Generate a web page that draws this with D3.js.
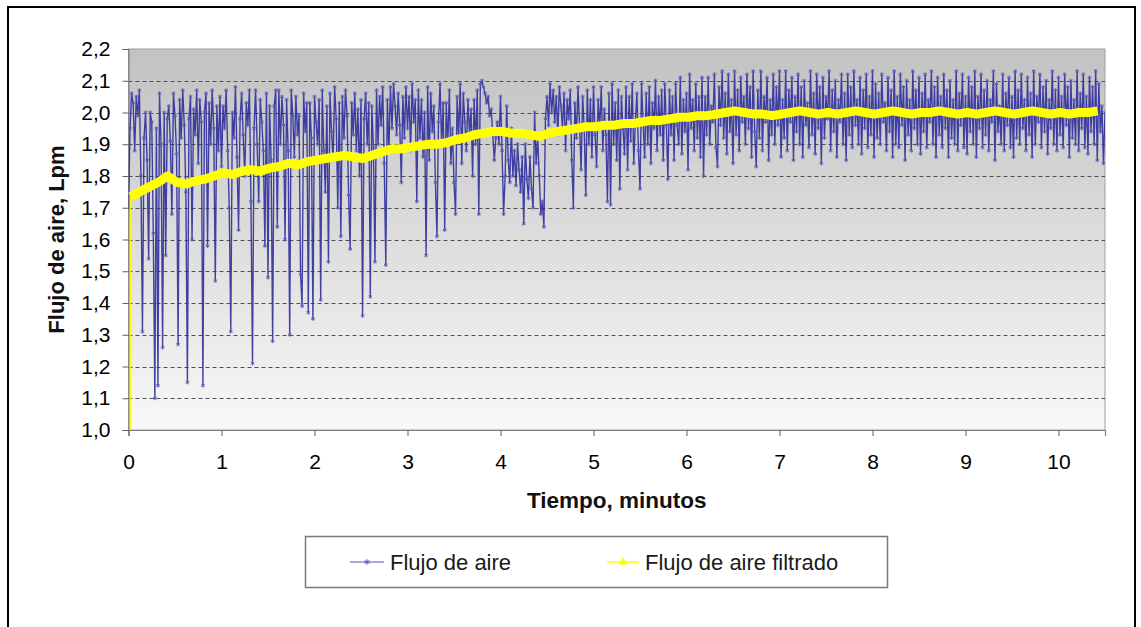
<!DOCTYPE html>
<html>
<head>
<meta charset="utf-8">
<script src="https://cdn.jsdelivr.net/npm/d3@7"></script>
<style>
  body { margin: 0; background: #fff; }
  svg { display: block; font-family: "Liberation Sans", Arial, sans-serif; }
</style>
</head>
<body>
<svg id="chart"></svg>
<script>
// raw air flow, one reading per second (1/60 min)
const flowStep = 1 / 60;
const airFlow = [
  // minute 0
  1.70, 1.95, 2.06, 2.03, 1.88, 2.05, 1.99, 2.07, 1.80, 1.31,
  1.92, 2.00, 1.85, 1.54, 2.00, 1.97, 1.62, 1.10, 1.95, 1.14,
  2.06, 1.90, 1.26, 2.00, 1.55, 1.98, 2.02, 1.91, 1.68, 2.06,
  1.99, 1.87, 1.27, 2.04, 1.92, 2.07, 1.96, 1.75, 1.15, 1.98,
  2.05, 1.60, 2.01, 1.93, 2.07, 1.84, 2.04, 1.97, 1.14, 2.00,
  2.06, 1.58, 2.03, 1.90, 2.07, 1.95, 1.47, 2.02, 1.88, 2.05,
  // minute 1
  1.83, 2.02, 1.95, 2.07, 1.88, 1.70, 1.31, 2.00, 1.92, 2.08,
  1.86, 1.63, 1.98, 2.06, 1.93, 1.80, 2.03, 1.96, 2.07, 1.72,
  1.21, 1.95, 2.07, 1.90, 1.72, 2.04, 1.97, 1.88, 1.58, 2.06,
  1.48, 2.02, 1.85, 1.28, 2.02, 2.07, 1.64, 2.07, 1.90, 2.05,
  1.96, 1.60, 2.04, 1.88, 1.30, 2.07, 1.99, 1.86, 2.05, 1.93,
  1.99, 1.49, 1.39, 2.06, 1.94, 2.03, 1.37, 2.03, 1.92, 1.35,
  // minute 2
  2.05, 1.97, 1.90, 2.04, 1.41, 2.07, 1.88, 1.75, 2.02, 1.53,
  2.06, 1.94, 1.85, 2.08, 1.98, 1.70, 2.03, 1.61, 2.05, 1.92,
  2.07, 1.99, 1.74, 1.57, 2.03, 1.93, 2.06, 1.88, 2.01, 1.80,
  2.04, 1.36, 1.98, 2.06, 1.90, 2.03, 1.42, 2.02, 1.89, 1.53,
  2.07, 1.90, 2.05, 1.96, 2.08, 1.84, 1.52, 2.04, 1.88, 2.08,
  1.95, 2.09, 2.02, 1.93, 2.06, 1.96, 1.78, 2.05, 1.92, 2.08,
  // minute 3
  1.95, 2.05, 1.88, 2.09, 1.97, 2.04, 1.72, 2.07, 1.92, 2.04,
  1.86, 2.00, 1.55, 2.08, 1.85, 2.06, 1.94, 2.02, 1.78, 1.61,
  1.97, 2.09, 1.90, 2.03, 1.63, 2.03, 1.90, 2.07, 1.84, 1.95,
  1.78, 1.68, 2.05, 1.92, 2.09, 1.84, 2.06, 1.97, 1.88, 2.04,
  1.93, 2.01, 1.80, 2.04, 1.90, 2.07, 1.68, 2.09, 2.10, 2.08,
  2.06, 2.03, 2.05, 1.99, 2.01, 1.93, 1.85, 1.92, 1.97, 1.90,
  // minute 4
  2.05, 1.88, 1.68, 1.80, 2.02, 1.85, 1.78, 1.95, 1.80, 1.88,
  1.77, 1.90, 1.82, 1.75, 1.86, 1.65, 1.90, 1.79, 1.73, 1.86,
  1.76, 1.70, 2.00, 1.84, 1.92, 1.80, 1.68, 1.72, 1.64, 1.98,
  2.05, 1.96, 2.09, 2.00, 2.07, 1.97, 2.05, 1.93, 2.08, 2.02,
  1.95, 2.06, 1.88, 2.04, 1.98, 2.07, 1.85, 1.70, 2.03, 1.92,
  2.08, 1.96, 1.82, 2.05, 1.95, 1.74, 2.07, 1.90, 2.04, 1.86,
  // minute 5
  2.08, 1.93, 1.83, 2.04, 1.95, 2.08, 1.88, 2.01, 1.93, 1.72,
  2.06, 1.71, 2.09, 1.90, 2.03, 1.85, 2.07, 1.76, 2.05, 1.95,
  1.87, 2.08, 1.82, 2.05, 1.91, 2.09, 1.84, 1.97, 2.06, 1.88,
  1.76, 2.09, 1.97, 1.86, 2.06, 1.90, 2.08, 1.84, 2.03, 1.95,
  2.10, 1.88, 2.05, 1.93, 2.07, 1.85, 2.09, 1.96, 1.79, 2.07,
  1.93, 2.05, 1.85, 2.09, 1.96, 1.90, 2.11, 1.87, 2.04, 1.94,
  // minute 6
  2.06, 1.82, 2.12, 1.95, 2.04, 1.88, 2.09, 1.92, 2.05, 1.86,
  2.11, 1.80, 2.05, 1.93, 2.11, 1.90, 2.02, 1.97, 2.12, 1.89,
  1.83, 2.08, 1.96, 2.13, 1.92, 2.06, 1.87, 2.12, 1.94, 2.04,
  1.84, 2.13, 1.93, 2.07, 1.88, 2.11, 1.97, 2.05, 1.90, 2.12,
  1.95, 2.08, 1.86, 2.13, 1.94, 1.83, 2.07, 1.92, 2.13, 1.88,
  2.05, 1.97, 2.11, 1.85, 2.04, 1.93, 2.12, 1.90, 2.08, 1.96,
  // minute 7
  2.13, 1.86, 2.04, 1.92, 2.13, 1.88, 2.07, 1.97, 2.11, 1.85,
  2.05, 1.94, 2.12, 1.90, 2.08, 1.86, 2.10, 1.96, 2.03, 1.89,
  2.13, 1.93, 2.06, 1.87, 2.12, 1.95, 2.08, 1.84, 2.11, 1.92,
  2.05, 1.98, 2.13, 1.88, 2.07, 1.94, 2.10, 1.86, 2.04, 1.97,
  2.12, 1.90, 2.06, 1.85, 2.12, 1.93, 2.08, 1.89, 2.13, 1.96,
  2.04, 1.90, 2.11, 1.87, 2.07, 1.95, 2.12, 1.89, 2.05, 1.93,
  // minute 8
  2.13, 1.86, 2.09, 1.92, 2.06, 1.90, 2.12, 1.97, 2.03, 1.88,
  2.11, 1.94, 2.07, 1.86, 2.13, 1.90, 2.05, 1.89, 2.12, 1.96,
  2.08, 1.85, 2.10, 1.93, 2.04, 1.88, 2.13, 1.95, 2.07, 1.90,
  2.11, 1.87, 2.06, 1.94, 2.12, 1.89, 2.04, 1.97, 2.13, 1.90,
  2.08, 1.86, 2.11, 1.93, 2.05, 1.89, 2.12, 1.95, 2.07, 1.86,
  2.10, 1.92, 2.04, 1.90, 2.13, 1.88, 2.06, 1.96, 2.12, 1.89,
  // minute 9
  2.05, 1.87, 2.11, 1.94, 2.08, 1.90, 2.13, 1.86, 2.05, 1.95,
  2.12, 1.89, 2.07, 1.93, 2.10, 1.88, 2.04, 1.97, 2.13, 1.85,
  2.09, 1.94, 2.02, 1.90, 2.12, 1.88, 2.06, 1.96, 2.11, 1.89,
  2.05, 1.86, 2.13, 1.92, 2.07, 1.90, 2.12, 1.95, 2.04, 1.88,
  2.11, 1.93, 2.06, 1.86, 2.13, 1.90, 2.05, 1.97, 2.12, 1.89,
  2.08, 1.94, 2.10, 1.87, 2.04, 1.95, 2.13, 1.90, 2.07, 1.88,
  // minute 10
  2.11, 1.93, 2.05, 1.89, 2.12, 1.96, 2.08, 1.86, 2.10, 1.92,
  2.04, 1.90, 2.13, 1.88, 2.06, 1.95, 2.12, 1.89, 2.05, 1.87,
  2.11, 1.94, 2.08, 1.90, 2.13, 1.85, 2.09, 1.94, 2.02, 1.84,
  2.00
];

// filtered flow, one value every 0.1 min starting at 0.02 min
const filtStart = 0.02;
const filtStep = 0.1;
const filtInit = 1.0;
const filtFlow = [
  1.735, 1.75, 1.765, 1.78, 1.80, 1.78, 1.775, 1.785, 1.79, 1.80,
  1.81, 1.805, 1.815, 1.82, 1.815, 1.825, 1.83, 1.84, 1.835, 1.845,
  1.85, 1.855, 1.86, 1.865, 1.86, 1.855, 1.865, 1.875, 1.885, 1.885,
  1.89, 1.895, 1.90, 1.90, 1.905, 1.915, 1.92, 1.93, 1.935, 1.94,
  1.94, 1.935, 1.935, 1.93, 1.925, 1.935, 1.94, 1.945, 1.95, 1.955,
  1.955, 1.96, 1.96, 1.965, 1.965, 1.97, 1.975, 1.975, 1.98, 1.985,
  1.985, 1.99, 1.99, 1.995, 2.00, 2.005, 2.00, 1.995, 1.995, 1.99,
  1.995, 2.00, 2.005, 2.00, 1.995, 2.00, 1.995, 2.00, 2.005, 2.00,
  1.995, 2.00, 2.005, 2.00, 1.995, 2.00, 2.00, 2.005, 2.00, 1.995,
  2.00, 1.995, 2.00, 2.005, 2.00, 1.995, 2.00, 2.005, 2.00, 1.995,
  2.00, 1.995, 2.00, 2.00, 2.005
];

const xTicks = [0, 1, 2, 3, 4, 5, 6, 7, 8, 9, 10];
const yTicks = [1.0, 1.1, 1.2, 1.3, 1.4, 1.5, 1.6, 1.7, 1.8, 1.9, 2.0, 2.1, 2.2];
const seriesNames = ["Flujo de aire", "Flujo de aire filtrado"];

const width = 1141;
const height = 627;
const marginLeft = 128.5;
const marginRight = 36;
const marginTop = 49;
const marginBottom = 197;

const x = d3.scaleLinear()
    .domain([0, 10.5])
    .range([marginLeft, width - marginRight]);

const y = d3.scaleLinear()
    .domain([1.0, 2.2])
    .range([height - marginBottom, marginTop]);

const fmt = d => d3.format(".1f")(d).replace(".", ",");

const svg = d3.select("#chart")
    .attr("width", width)
    .attr("height", height);

// outer frame
svg.append("path")
    .attr("d", `M8,${height + 5}V7H1135V${height + 5}`)
    .attr("fill", "none")
    .attr("stroke", "#000")
    .attr("stroke-width", 2);

const defs = svg.append("defs");
const grad = defs.append("linearGradient")
    .attr("id", "bg")
    .attr("x1", 0).attr("y1", 0).attr("x2", 0).attr("y2", 1);
grad.append("stop").attr("offset", "0%").attr("stop-color", "#c2c2c2");
grad.append("stop").attr("offset", "100%").attr("stop-color", "#f8f8f8");

defs.append("clipPath").attr("id", "plotclip")
  .append("rect")
    .attr("x", x(0)).attr("y", y(2.2))
    .attr("width", x(10.5) - x(0)).attr("height", y(1.0) - y(2.2));

svg.append("rect")
    .attr("x", x(0))
    .attr("y", y(2.2))
    .attr("width", x(10.5) - x(0))
    .attr("height", y(1.0) - y(2.2))
    .attr("fill", "url(#bg)")
    .attr("stroke", "#a0a0a0")
    .attr("stroke-width", 1);

// dashed gridlines
svg.append("g")
  .selectAll("line")
  .data(yTicks.filter(d => d > 1.0 && d < 2.2))
  .join("line")
    .attr("x1", x(0))
    .attr("x2", x(10.5))
    .attr("y1", d => Math.round(y(d)) + 0.5)
    .attr("y2", d => Math.round(y(d)) + 0.5)
    .attr("stroke", "#505050")
    .attr("stroke-width", 1)
    .attr("stroke-dasharray", "4,3");

// axes
const xAxis = svg.append("g")
    .attr("transform", `translate(0,${y(1.0)})`)
    .call(d3.axisBottom(x).tickValues(xTicks).tickSize(6).tickPadding(18).tickFormat(d3.format("d")));
const yAxis = svg.append("g")
    .attr("transform", `translate(${x(0)},0)`)
    .call(d3.axisLeft(y).tickValues(yTicks).tickSize(6).tickPadding(12).tickFormat(fmt));

[xAxis, yAxis].forEach(g => {
  g.select(".domain").attr("stroke", "#808080").attr("stroke-width", 1.2);
  g.selectAll(".tick line").attr("stroke", "#606060");
  g.selectAll(".tick text")
      .attr("fill", "#000")
      .attr("font-size", 21)
      .attr("font-family", "Liberation Sans, Arial, sans-serif");
});

// raw flow series
const plot = svg.append("g").attr("clip-path", "url(#plotclip)");
const flowPts = airFlow.map((v, i) => [i * flowStep, v]);

plot.append("path")
    .datum(flowPts)
    .attr("fill", "none")
    .attr("stroke", "#2f2f9c")
    .attr("stroke-width", 1.4)
    .attr("stroke-opacity", 0.9)
    .attr("d", d3.line().x(d => x(d[0])).y(d => y(d[1])));

plot.append("g")
  .selectAll("path")
  .data(flowPts)
  .join("path")
    .attr("transform", d => `translate(${x(d[0])},${y(d[1])})`)
    .attr("d", d3.symbol(d3.symbolAsterisk, 12))
    .attr("fill", "none")
    .attr("stroke", "#5555b5")
    .attr("stroke-width", 0.9);

// filtered series
const filtPts = filtFlow.map((v, i) => [filtStart + i * filtStep, v]);

plot.append("path")
    .datum([[filtStart, filtInit], filtPts[0]])
    .attr("fill", "none")
    .attr("stroke", "#ffff00")
    .attr("stroke-width", 1.2)
    .attr("d", d3.line().x(d => x(d[0])).y(d => y(d[1])));

plot.append("path")
    .datum(filtPts)
    .attr("fill", "none")
    .attr("stroke", "#ffff00")
    .attr("stroke-width", 9)
    .attr("stroke-linejoin", "round")
    .attr("d", d3.line().x(d => x(d[0])).y(d => y(d[1])));

// axis titles
svg.append("text")
    .attr("x", (x(0) + x(10.5)) / 2)
    .attr("y", 508)
    .attr("text-anchor", "middle")
    .attr("font-size", 22.5)
    .attr("font-weight", "bold")
    .attr("fill", "#111")
    .text("Tiempo, minutos");

svg.append("text")
    .attr("transform", `translate(64,${(y(1.0) + y(2.2)) / 2}) rotate(-90)`)
    .attr("text-anchor", "middle")
    .attr("font-size", 22)
    .attr("font-weight", "bold")
    .attr("fill", "#111")
    .text("Flujo de aire, Lpm");

// legend
const legend = svg.append("g");
legend.append("rect")
    .attr("x", 305.5).attr("y", 536.5)
    .attr("width", 582).attr("height", 51)
    .attr("fill", "#fff")
    .attr("stroke", "#7a7a7a")
    .attr("stroke-width", 1.5);

const legendItems = [
  {name: seriesNames[0], color: "#5050c0", x0: 350, w: 34, tx: 390, width: 1},
  {name: seriesNames[1], color: "#ffff00", x0: 607, w: 32, tx: 645, width: 1.5}
];
legendItems.forEach(it => {
  legend.append("line")
      .attr("x1", it.x0).attr("x2", it.x0 + it.w)
      .attr("y1", 562).attr("y2", 562)
      .attr("stroke", it.color).attr("stroke-width", it.width);
  legend.append("path")
      .attr("transform", `translate(${it.x0 + it.w / 2},562)`)
      .attr("d", d3.symbol(it.name === seriesNames[0] ? d3.symbolAsterisk : d3.symbolTriangle, 22))
      .attr("fill", it.name === seriesNames[0] ? "none" : it.color)
      .attr("stroke", it.color)
      .attr("stroke-width", 1);
  legend.append("text")
      .attr("x", it.tx).attr("y", 570)
      .attr("font-size", 22)
      .attr("fill", "#1a1a1a")
      .text(it.name);
});
</script>
</body>
</html>
